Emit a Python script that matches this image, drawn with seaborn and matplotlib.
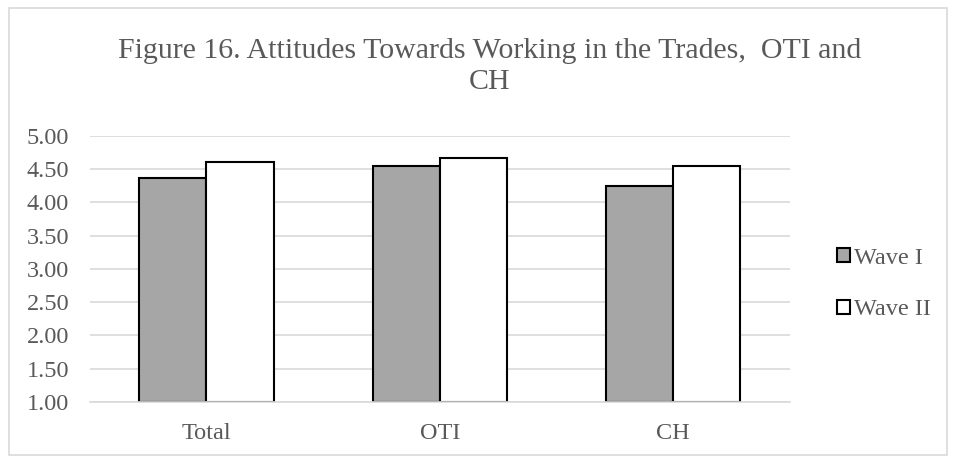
import pandas as pd
import matplotlib.pyplot as plt
import seaborn as sns
from matplotlib.patches import Rectangle

categories = ["Total", "OTI", "CH"]
wave_1 = [4.37, 4.54, 4.24]
wave_2 = [4.60, 4.67, 4.54]
series_names = ["Wave I", "Wave II"]
y_ticks = [1.0, 1.5, 2.0, 2.5, 3.0, 3.5, 4.0, 4.5, 5.0]

df = pd.DataFrame({
    "group": categories * 2,
    "score": wave_1 + wave_2,
    "wave": [series_names[0]] * 3 + [series_names[1]] * 3,
})

sns.set_theme(style="white")
plt.rcParams["font.family"] = ["Liberation Serif", "DejaVu Serif"]

fig = plt.figure(figsize=(9.56, 4.62), dpi=100)
ax = fig.add_axes([0.094, 0.130, 0.732, 0.576])

sns.barplot(data=df, x="group", y="score", hue="wave",
            palette={"Wave I": "#a6a6a6", "Wave II": "#ffffff"},
            width=0.575, edgecolor="black", linewidth=1.5,
            legend=False, ax=ax)

# bars start at the axis floor (1.00) rather than 0
for bar in ax.patches:
    h = bar.get_height()
    bar.set_y(1.0)
    bar.set_height(h - 1.0)

ax.set_ylim(1.0, 5.0)
ax.set_xlim(-0.5, 2.5)
ax.set_yticks(y_ticks)
ax.set_yticklabels([f"{t:.2f}" for t in y_ticks])
ax.yaxis.grid(True, color="#d9d9d9", linewidth=1.2)
ax.set_axisbelow(True)
for side in ["top", "right", "left"]:
    ax.spines[side].set_visible(False)
ax.spines["bottom"].set_color("#d9d9d9")
ax.spines["bottom"].set_linewidth(1.2)
ax.tick_params(axis="both", length=0, labelsize=17.5, labelcolor="#595959")
ax.tick_params(axis="x", pad=15)
ax.tick_params(axis="y", pad=15)
ax.set_xlabel("")
ax.set_ylabel("")

fig.text(0.512, 0.856,
         "Figure 16. Attitudes Towards Working in the Trades,  OTI and\nCH",
         ha="center", va="center", fontsize=21.5, color="#595959",
         linespacing=1.26)

handles = [Rectangle((0, 0), 1, 1, facecolor="#a6a6a6", edgecolor="black", linewidth=1.5),
           Rectangle((0, 0), 1, 1, facecolor="#ffffff", edgecolor="black", linewidth=1.5)]
leg = fig.legend(handles, series_names, loc="center left",
                 bbox_to_anchor=(0.876, 0.385), frameon=False, fontsize=17.5,
                 handlelength=0.5, handleheight=0.5, handletextpad=0.2,
                 labelspacing=1.25, borderpad=0, borderaxespad=0)
for t in leg.get_texts():
    t.set_color("#595959")

fig.patches.append(Rectangle((0.009, 0.015), 0.982, 0.968, transform=fig.transFigure,
                             fill=False, edgecolor="#d9d9d9", linewidth=1.2))

fig.savefig("out.png", dpi=100, facecolor="white")
